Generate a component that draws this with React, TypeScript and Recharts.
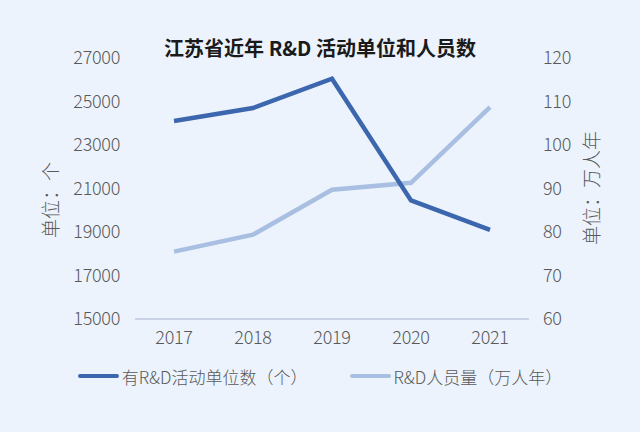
import { LineChart, Line, XAxis, YAxis, Legend } from "recharts";

const years = ["2017", "2018", "2019", "2020", "2021"];
// 有R&D活动单位数（个）
const unitCounts = [24100, 24700, 26050, 20450, 19100];
// R&D人员量（万人年）
const staffAmounts = [75.5, 79.4, 89.7, 91.3, 108.7];

const leftTicks = [15000, 17000, 19000, 21000, 23000, 25000, 27000];
const rightTicks = [60, 70, 80, 90, 100, 110, 120];

const unitName = "有R&D活动单位数（个）";
const staffName = "R&D人员量（万人年）";

const data = years.map((year, i) => ({
  year,
  units: unitCounts[i],
  staff: staffAmounts[i],
}));

const FONT = '"Noto Sans CJK SC", "Noto Sans", sans-serif';
const DARK = "#3C67AF";
const LIGHT = "#A8BFE2";
const TEXT = "#595959";

const tickStyle = {
  fill: TEXT,
  fontSize: 18,
  fontFamily: FONT,
  fontWeight: 300,
  letterSpacing: -0.3,
};

const legendItems = [
  { name: unitName, color: DARK },
  { name: staffName, color: LIGHT },
];

function ChartLegend() {
  return (
    <div
      style={{
        height: 24,
        display: "flex",
        justifyContent: "center",
        alignItems: "center",
        gap: 42,
        fontFamily: FONT,
        fontSize: 17,
        fontWeight: 300,
        color: TEXT,
      }}
    >
      {legendItems.map((item) => (
        <div key={item.name} style={{ display: "flex", alignItems: "center" }}>
          <span
            style={{
              display: "inline-block",
              width: 41,
              height: 4,
              borderRadius: 2,
              background: item.color,
              marginRight: 3,
            }}
          />
          <span>{item.name}</span>
        </div>
      ))}
    </div>
  );
}

// rotated axis title, placed next to the axis
function axisTitle(text: string, x: number, y: number) {
  return () => (
    <text
      x={x}
      y={y}
      transform={`rotate(-90 ${x} ${y})`}
      textAnchor="middle"
      dominantBaseline="central"
      fill={TEXT}
      fontSize={19}
      fontWeight={300}
      fontFamily={FONT}
    >
      {text}
    </text>
  );
}

export default function App() {
  return (
    <div
      style={{
        position: "absolute",
        left: 0,
        top: 0,
        width: 640,
        height: 432,
        background: "#ECF3FC",
      }}
    >
      <div
        style={{
          position: "absolute",
          left: 0,
          top: 34,
          width: 640,
          textAlign: "center",
          fontFamily: FONT,
          fontWeight: 700,
          fontSize: 20,
          lineHeight: "28px",
          color: "#1A1A1A",
        }}
      >
        江苏省近年 R&amp;D 活动单位和人员数
      </div>
      <LineChart
        width={640}
        height={432}
        data={data}
        margin={{ top: 58, right: 0, bottom: 44, left: 0 }}
      >
        <XAxis
          dataKey="year"
          padding={{ left: 39, right: 39 }}
          height={45}
          axisLine={{ stroke: "#C8D2E4", strokeWidth: 2 }}
          tickLine={false}
          tickMargin={6}
          tick={tickStyle}
        />
        <YAxis
          yAxisId="left"
          width={135}
          domain={[15000, 27000]}
          ticks={leftTicks}
          interval={0}
          axisLine={false}
          tickLine={false}
          tickMargin={9}
          tick={tickStyle}
          label={{ content: axisTitle("单位：个", 49, 200) }}
        />
        <YAxis
          yAxisId="right"
          orientation="right"
          width={111}
          domain={[60, 120]}
          ticks={rightTicks}
          interval={0}
          axisLine={false}
          tickLine={false}
          tickMargin={8}
          tick={tickStyle}
          label={{ content: axisTitle("单位：万人年", 590, 188) }}
        />
        <Legend verticalAlign="bottom" content={<ChartLegend />} />
        <Line
          yAxisId="right"
          dataKey="staff"
          name={staffName}
          stroke={LIGHT}
          strokeWidth={4.5}
          dot={false}
          activeDot={false}
          isAnimationActive={false}
        />
        <Line
          yAxisId="left"
          dataKey="units"
          name={unitName}
          stroke={DARK}
          strokeWidth={4.5}
          dot={false}
          activeDot={false}
          isAnimationActive={false}
        />
      </LineChart>
    </div>
  );
}
